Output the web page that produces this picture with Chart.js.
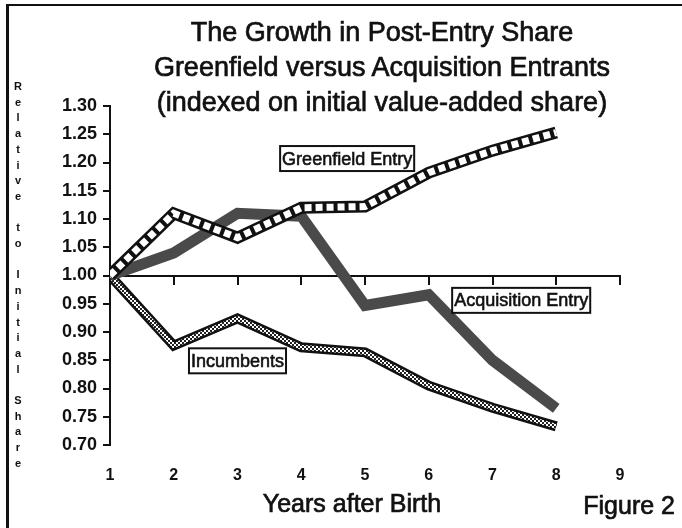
<!DOCTYPE html>
<html>
<head>
<meta charset="utf-8">
<script src="https://cdn.jsdelivr.net/npm/chart.js@4.4.1/dist/chart.umd.min.js"></script>
<style>
  html, body { margin: 0; padding: 0; background: #fff; }
  #wrap { position: relative; width: 682px; height: 528px; overflow: hidden; font-family: 'Liberation Sans', Arial, sans-serif; color: #111; }
  #wrap canvas { position: absolute; left: 0; top: 0; }
  .frame-left { position: absolute; left: 6px; top: 4px; width: 3px; height: 524px; background: #111; }
  .frame-top { position: absolute; left: 6px; top: 4px; width: 676px; height: 2px; background: #111; }
  .heavy { -webkit-text-stroke: 0.7px #111; }
  #title { position: absolute; left: 82px; width: 600px; top: 15px; text-align: center; font-size: 27px; line-height: 35px; }
  #ylabel { position: absolute; left: 12px; width: 12px; top: 79px; text-align: center; font-size: 11px; font-weight: bold; line-height: 15.7px; }
  #xlabel { position: absolute; left: 252px; width: 200px; top: 489px; text-align: center; font-size: 25px; }
  #fig { position: absolute; left: 560px; width: 115px; top: 491px; text-align: right; font-size: 25px; }
</style>
</head>
<body>
<div id="wrap">
  <canvas id="chart" width="682" height="528"></canvas>
  <div class="frame-left"></div>
  <div class="frame-top"></div>
  <div id="title" class="heavy">The Growth in Post-Entry Share<br>Greenfield versus Acquisition Entrants<br>(indexed on initial value-added share)</div>
  <div id="ylabel"></div>
  <div id="xlabel" class="heavy">Years after Birth</div>
  <div id="fig" class="heavy">Figure 2</div>
</div>
<script>
(function() {
  'use strict';

  // ── Data ──
  var years = [1, 2, 3, 4, 5, 6, 7, 8];
  var greenfield = [1.00, 1.11, 1.067, 1.12, 1.122, 1.182, 1.221, 1.253];
  var acquisition = [1.00, 1.04, 1.11, 1.105, 0.947, 0.966, 0.85, 0.765];
  var incumbents = [1.00, 0.876, 0.924, 0.873, 0.864, 0.805, 0.766, 0.733];
  var yTicks = [0.70, 0.75, 0.80, 0.85, 0.90, 0.95, 1.00, 1.05, 1.10, 1.15, 1.20, 1.25, 1.30];
  var xTicks = [1, 2, 3, 4, 5, 6, 7, 8, 9];

  // series labels, placed in data units
  var noteText = ['Greenfield Entry', 'Acquisition Entry', 'Incumbents'];
  var noteX = [4.72, 7.45, 3.0];
  var noteY = [1.207, 0.956, 0.849];

  function $(id) { return document.getElementById(id); }

  // vertical stacked y-axis title
  $('ylabel').innerHTML = 'Relative to Initial Share'.split('').map(function(c) {
    return c === ' ' ? '&nbsp;' : c;
  }).join('<br>');

  function pts(vals) {
    return years.map(function(x, i) { return { x: x, y: vals[i] }; });
  }

  // checker pattern for the incumbents line
  function checker() {
    var c = document.createElement('canvas');
    c.width = 4; c.height = 4;
    var g = c.getContext('2d');
    g.fillStyle = '#fff'; g.fillRect(0, 0, 4, 4);
    g.fillStyle = '#222'; g.fillRect(0, 0, 2, 2); g.fillRect(2, 2, 2, 2);
    return g.createPattern(c, 'repeat');
  }

  var FONT = "'Liberation Sans', Arial, sans-serif";

  function line(vals, color, width, dash) {
    return {
      data: pts(vals),
      borderColor: color,
      borderWidth: width,
      borderDash: dash || [],
      borderJoinStyle: 'miter',
      borderCapStyle: 'butt',
      pointRadius: 0,
      fill: false,
      tension: 0
    };
  }

  // ── Series labels plugin ──
  var notesPlugin = {
    id: 'notes',
    afterDatasetsDraw: function(chart) {
      var ctx = chart.ctx, sx = chart.scales.x, sy = chart.scales.y;
      ctx.save();
      ctx.font = '18px ' + FONT;
      ctx.textAlign = 'center';
      ctx.textBaseline = 'middle';
      noteText.forEach(function(t, i) {
        var cx = sx.getPixelForValue(noteX[i]);
        var cy = sy.getPixelForValue(noteY[i]);
        var w = ctx.measureText(t).width + 4;
        var h = 25;
        ctx.fillStyle = '#fff';
        ctx.fillRect(cx - w / 2, cy - h / 2, w, h);
        ctx.lineWidth = 2;
        ctx.strokeStyle = '#111';
        ctx.strokeRect(cx - w / 2, cy - h / 2, w, h);
        ctx.fillStyle = '#111';
        ctx.fillText(t, cx, cy + 1);
        ctx.lineWidth = 0.6;
        ctx.strokeText(t, cx, cy + 1);
      });
      ctx.restore();
    }
  };

  new Chart($('chart'), {
    type: 'line',
    data: {
      datasets: [
        line(greenfield, '#fff', 7, [7, 4]),
        line(greenfield, '#111', 12),
        line(acquisition, '#4a4a4a', 11),
        line(incumbents, checker(), 5),
        line(incumbents, '#111', 10)
      ]
    },
    options: {
      responsive: false,
      animation: false,
      layout: { padding: { left: 0, top: 106, right: 62, bottom: 0 } },
      plugins: { legend: { display: false }, tooltip: { enabled: false }, title: { display: false } },
      scales: {
        x: {
          type: 'linear', min: 1, max: 9, position: 'bottom',
          afterBuildTicks: function(s) { s.ticks = xTicks.map(function(v) { return { value: v }; }); },
          afterFit: function(s) { s.height = 83; },
          border: { display: false },
          grid: { display: false, drawTicks: false },
          ticks: { color: '#111', padding: 21, font: { family: FONT, size: 16, weight: 'bold' } }
        },
        xa: {
          type: 'linear', min: 1, max: 9, position: { y: 1.0 },
          afterBuildTicks: function(s) { s.ticks = xTicks.slice(1).map(function(v) { return { value: v }; }); },
          border: { display: true, color: '#111', width: 2 },
          grid: { drawOnChartArea: false, drawTicks: true, tickLength: 8, color: '#111', lineWidth: 2 },
          ticks: { display: false }
        },
        y: {
          type: 'linear', min: 0.70, max: 1.30, position: 'left',
          afterBuildTicks: function(s) { s.ticks = yTicks.map(function(v) { return { value: v }; }); },
          afterFit: function(s) { s.width = 110; },
          border: { display: true, color: '#111', width: 2 },
          grid: { drawOnChartArea: false, drawTicks: true, tickLength: 7, color: '#111', lineWidth: 2 },
          ticks: {
            color: '#111', padding: 6,
            font: { family: FONT, size: 18, weight: 'bold' },
            callback: function(v) { return Number(v).toFixed(2); }
          }
        }
      }
    },
    plugins: [notesPlugin]
  });
})();
</script>
</body>
</html>
